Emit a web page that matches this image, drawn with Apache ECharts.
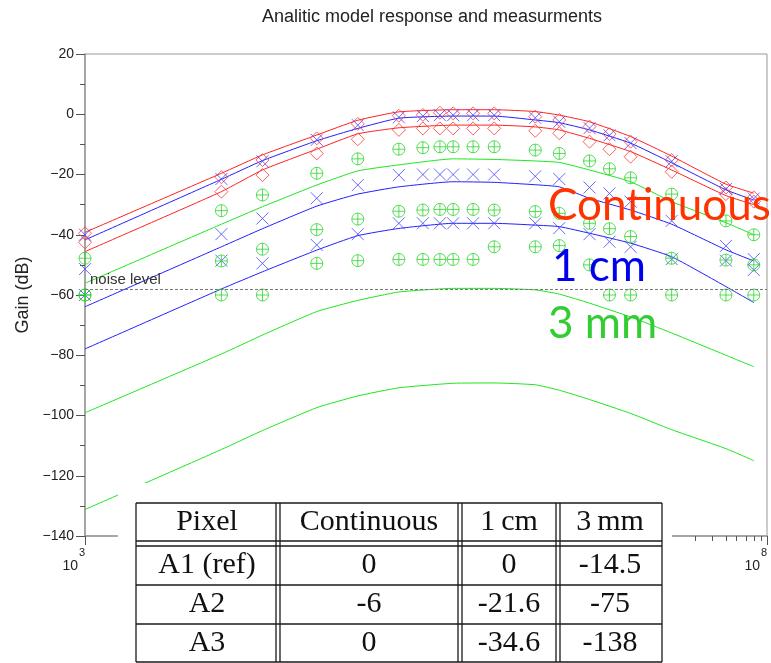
<!DOCTYPE html>
<html>
<head>
<meta charset="utf-8">
<script src="https://cdn.jsdelivr.net/npm/echarts@6/dist/echarts.min.js"></script>
<style>
html, body { margin: 0; padding: 0; background: #fff; }
#chart { width: 771px; height: 663px; }
</style>
</head>
<body>
<div id="chart"></div>
<script>
// frequencies of the measured points (Hz)
const measFreq = [1e3, 1e4, 2e4, 5e4, 1e5, 2e5, 3e5, 4e5, 5e5, 7e5, 1e6, 2e6, 3e6, 5e6, 7e6, 1e7, 2e7, 5e7, 8e7];
// frequencies where the analytic curves are sampled
const modelFreq = [1e3, 1e4, 2e4, 5e4, 1e5, 2e5, 5e5, 1e6, 2e6, 3e6, 5e6, 1e7, 2e7, 5e7, 8e7];

// analytic model (dB)
const contA1Model = [-39.2, -19.6, -13.5, -6.9, -2.0, 0.8, 1.5, 1.5, 0.9, -0.3, -2.5, -7.4, -13.9, -23.2, -26.2];
const contA2Model = [-45.6, -25.7, -18.5, -11.6, -6.5, -4.5, -3.6, -3.6, -4.2, -5.2, -8.0, -12.4, -18.5, -27.0, -30.0];
const cmA1Model = [-41.7, -21.6, -15.4, -8.8, -4.7, -1.3, -0.6, -0.6, -1.9, -2.8, -5.2, -9.6, -16.1, -25.1, -28.5];
const cmA2Model = [-63.9, -44.0, -38.0, -30.5, -26.5, -24.1, -22.4, -22.6, -23.4, -24.1, -27.9, -31.8, -36.5, -45.0, -48.7];
const cmA3Model = [-77.9, -58.0, -52.3, -45.1, -40.3, -37.9, -36.2, -36.2, -36.8, -37.3, -39.5, -42.8, -47.3, -57.2, -62.5];
const mmA1Model = [-56.1, -36.5, -30.7, -23.5, -18.8, -16.8, -14.8, -15.0, -15.5, -16.0, -18.5, -22.4, -29.0, -36.0, -40.0];
const mmA2Model = [-99.1, -79.6, -73.3, -65.5, -61.8, -59.0, -57.8, -57.8, -58.3, -59.7, -62.7, -67.3, -72.6, -80.0, -83.8];
const mmA3Model = [-131.2, -111.3, -105.0, -97.4, -93.5, -90.8, -89.3, -89.2, -89.8, -91.6, -94.7, -99.3, -104.7, -111.0, -115.0];

// measurements (dB)
const contA1Meas = [-39.5, -20.9, -15.2, -8.0, -3.2, -0.5, -0.2, 0.5, 0.3, 0.3, 0.3, -0.8, -1.9, -4.1, -6.6, -9.1, -15.2, -24.3, -27.6];
const contA2Meas = [-42.5, -25.7, -20.2, -13.0, -8.3, -5.2, -4.7, -4.7, -4.7, -4.7, -4.7, -5.5, -6.3, -9.1, -11.6, -14.1, -19.1, -26.5, -29.0];
const cmA1Meas = [-40.0, -21.5, -15.6, -8.5, -3.6, -1.0, -0.6, -0.3, -0.3, -0.3, -0.3, -1.2, -2.5, -4.6, -7.0, -9.6, -15.6, -24.8, -28.0];
const cmA2Meas = [-51.4, -39.8, -34.6, -27.9, -23.5, -20.2, -20.0, -20.0, -20.0, -20.0, -20.0, -20.6, -21.5, -24.3, -26.3, -29.0, -35.4, -43.7, -48.1];
const cmA3Meas = [-60.0, -48.6, -49.5, -43.4, -39.8, -36.2, -36.2, -36.2, -36.2, -36.2, -36.2, -36.2, -37.8, -39.8, -42.3, -44.0, -48.1, -48.6, -51.7];
const mmA1Meas = [-47.8, -32.0, -26.8, -19.6, -14.8, -11.6, -11.1, -10.8, -10.8, -10.8, -10.8, -11.9, -13.0, -15.5, -18.1, -21.1, -26.5, -35.4, -40.0];
const mmA2Meas = [-60.0, -48.7, -44.8, -38.3, -34.8, -32.2, -31.8, -31.6, -31.6, -31.6, -31.8, -32.3, -32.9, -36.2, -38.0, -40.6, -47.8, -48.4, -50.0];
const mmA3Meas = [-60.0, -60.0, -60.0, -49.5, -48.6, -48.2, -48.2, -48.2, -48.2, -48.2, -44.0, -44.0, -43.6, -50.0, -60.0, -60.0, -60.0, -60.0, -60.0];

const noiseLevel = -58;

// overlay labels and the table pasted on the figure
const legendNames = ['Continuous', '1 cm', '3 mm'];
const tableHeader = ['Pixel', 'Continuous', '1\u2009cm', '3\u2009mm'];
const tableRows = [
    ['A1 (ref)', '0', '0', '-14.5'],
    ['A2', '-6', '-21.6', '-75'],
    ['A3', '0', '-34.6', '-138']
];

const sans = '"Liberation Sans", Arial, sans-serif';
const serif = '"Liberation Serif", "Times New Roman", serif';

const RED = '#ff2020', BLUE = '#2020ff', GREEN = '#1ee61e';
const RED_M = '#ff3a3a', BLUE_M = '#4545ff', GREEN_M = '#2ad42a';

const crossPath = 'path://M0,0L10,10M10,0L0,10';
const diamondPath = 'path://M5,0L10,5L5,10L0,5Z';
const oplusPath = 'path://M0,5A5,5,0,1,1,10,5A5,5,0,1,1,0,5ZM5,0L5,10M0,5L10,5';

const pairs = (freq, vals) => freq.map((f, i) => [f, vals[i]]);

function modelSeries(name, vals, color) {
    return {
        name: name, type: 'line', data: pairs(modelFreq, vals),
        showSymbol: false, smooth: 0.15, silent: true, z: 2,
        lineStyle: { color: color, width: 1 }, itemStyle: { color: color }
    };
}
function measSeries(name, vals, symbol, color, size) {
    return {
        name: name, type: 'scatter', data: pairs(measFreq, vals),
        symbol: symbol, symbolSize: size, silent: true, z: 3,
        itemStyle: { color: 'rgba(0,0,0,0)', borderColor: color, borderWidth: 1 }
    };
}

const myChart = echarts.init(document.getElementById('chart'));

// table + overlaid coloured labels (graphic)
const colX = [136, 278, 460, 558, 662];
const rowY = [546, 585, 624, 662];
const g = [];
g.push({ type: 'rect', z: 100, silent: true, shape: { x: 118, y: 483, width: 554, height: 180 }, style: { fill: '#fff' } });
[503, 541].concat(rowY).forEach(y => {
    g.push({ type: 'line', z: 101, silent: true, shape: { x1: colX[0], y1: y, x2: colX[4], y2: y }, style: { stroke: '#1a1a1a', lineWidth: 1.3 } });
});
colX.forEach((x, i) => {
    const xs = (i === 0 || i === colX.length - 1) ? [x] : [x - 2, x + 2];
    xs.forEach(xx => {
        g.push({ type: 'line', z: 101, silent: true, shape: { x1: xx, y1: 503, x2: xx, y2: 662 }, style: { stroke: '#1a1a1a', lineWidth: 1.3 } });
    });
});
const cellText = (txt, c, y) => ({
    type: 'text', z: 102, silent: true,
    style: { text: txt, x: (colX[c] + colX[c + 1]) / 2, y: y, align: 'center', verticalAlign: 'middle', font: '30px ' + serif, fill: '#111' }
});
tableHeader.forEach((h, c) => g.push(cellText(h, c, 522)));
tableRows.forEach((row, r) => row.forEach((v, c) => g.push(cellText(v, c, (rowY[r] + rowY[r + 1]) / 2))));

const legendColors = ['#ff3300', '#0000ee', '#33cc33'];
const legendPos = [[548, 206], [552, 267], [548, 324]];
legendNames.forEach((n, i) => {
    g.push({ type: 'text', z: 110, silent: true, style: { text: n, x: legendPos[i][0], y: legendPos[i][1], align: 'left', verticalAlign: 'middle', font: '44px Lato, sans-serif', fill: legendColors[i] } });
});

const option = {
    backgroundColor: '#fff',
    animation: false,
    title: {
        text: 'Analitic model response and measurments',
        left: 427, top: 3, textAlign: 'center',
        textStyle: { fontFamily: sans, fontSize: 18, fontWeight: 'normal', color: '#222' }
    },
    grid: { left: 85, right: 4, top: 54, bottom: 127, show: true, borderColor: '#999', borderWidth: 1, backgroundColor: '#fff' },
    xAxis: {
        type: 'log', logBase: 10, min: 1e3, max: 1e8,
        axisLine: { onZero: false, lineStyle: { color: '#999', width: 1.5 } },
        axisTick: { length: 9, lineStyle: { color: '#555' } },
        minorTick: { show: true, splitNumber: 9, length: 5, lineStyle: { color: '#555' } },
        splitLine: { show: false },
        axisLabel: {
            margin: 11, align: 'right',
            formatter: v => '{s|' + Math.round(Math.log10(v)) + '}\n{b|10}',
            rich: {
                s: { fontFamily: sans, fontSize: 11, lineHeight: 12, color: '#222' },
                b: { fontFamily: sans, fontSize: 14, lineHeight: 14, color: '#222', padding: [0, 7, 0, 0] }
            }
        }
    },
    yAxis: {
        type: 'value', min: -140, max: 20, interval: 20,
        name: 'Gain (dB)', nameLocation: 'middle', nameGap: 49,
        nameTextStyle: { fontFamily: sans, fontSize: 18, color: '#222' },
        axisLine: { show: true, onZero: false, lineStyle: { color: '#999', width: 1.5 } },
        axisTick: { show: true, length: 9, lineStyle: { color: '#555' } },
        minorTick: { show: true, splitNumber: 2, length: 5, lineStyle: { color: '#555' } },
        splitLine: { show: false },
        axisLabel: { margin: 11, fontFamily: sans, fontSize: 14, color: '#222', formatter: v => String(v).replace('-', '\u2212') }
    },
    graphic: g,
    series: [
        {
            name: 'noise', type: 'line', data: [], silent: true,
            markLine: {
                silent: true, symbol: 'none', animation: false,
                lineStyle: { type: [3, 2], color: '#777', width: 1 },
                label: { formatter: 'noise level', position: 'insideStartTop', distance: [5, 2], fontFamily: sans, fontSize: 15, color: '#333' },
                data: [{ yAxis: noiseLevel }]
            }
        },
        modelSeries('Continuous A1 model', contA1Model, RED),
        modelSeries('Continuous A2 model', contA2Model, RED),
        modelSeries('1 cm A1 model', cmA1Model, BLUE),
        modelSeries('1 cm A2 model', cmA2Model, BLUE),
        modelSeries('1 cm A3 model', cmA3Model, BLUE),
        modelSeries('3 mm A1 model', mmA1Model, GREEN),
        modelSeries('3 mm A2 model', mmA2Model, GREEN),
        modelSeries('3 mm A3 model', mmA3Model, GREEN),
        measSeries('Continuous A1', contA1Meas, diamondPath, RED_M, 13),
        measSeries('Continuous A2', contA2Meas, diamondPath, RED_M, 13),
        measSeries('1 cm A1', cmA1Meas, crossPath, BLUE_M, 12),
        measSeries('1 cm A2', cmA2Meas, crossPath, BLUE_M, 12),
        measSeries('1 cm A3', cmA3Meas, crossPath, BLUE_M, 12),
        measSeries('3 mm A1', mmA1Meas, oplusPath, GREEN_M, 12),
        measSeries('3 mm A2', mmA2Meas, oplusPath, GREEN_M, 12),
        measSeries('3 mm A3', mmA3Meas, oplusPath, GREEN_M, 12)
    ]
};

myChart.setOption(option, true);
window.onresize = myChart.resize;
</script>
</body>
</html>
